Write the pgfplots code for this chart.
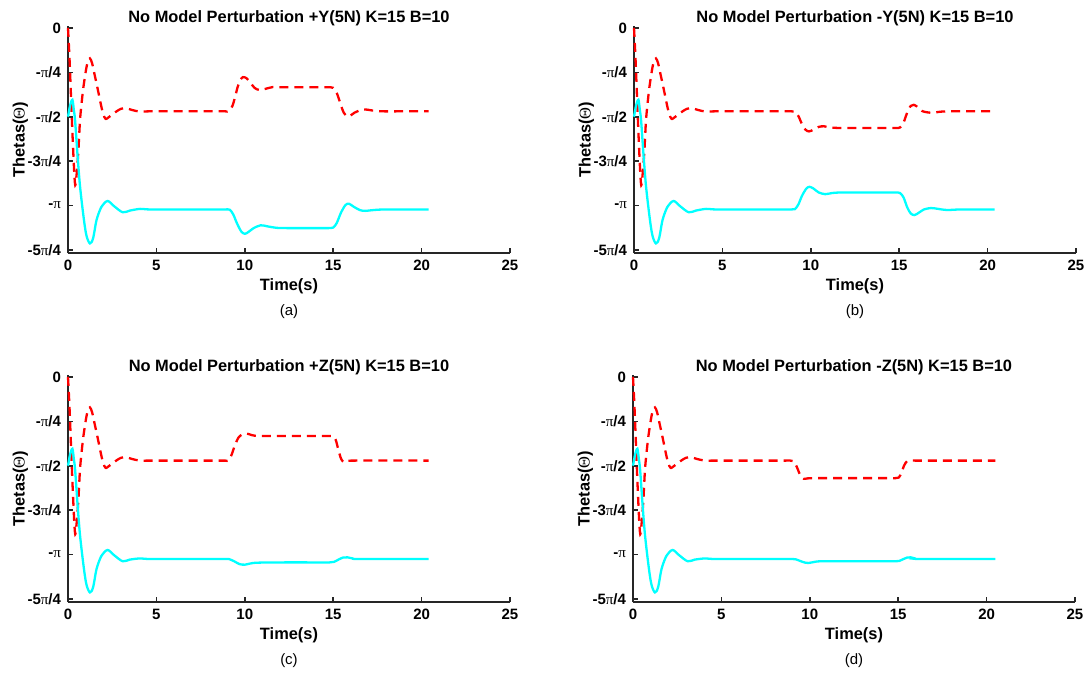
\documentclass[border=0pt]{standalone}
\usepackage{fontspec}
\setmainfont{Liberation Sans}
\newfontfamily\symfont{Liberation Serif}
\usepackage{pgfplots}
\pgfplotsset{compat=1.18}

\definecolor{axgray}{RGB}{38,38,38}
\definecolor{lred}{RGB}{255,0,0}
\definecolor{lcyan}{RGB}{0,255,255}
\newcommand{\pif}{{\symfont\mdseries π}}

\pgfplotsset{
  thetas/.style={
    scale only axis, width=221pt, height=113.4pt,
    xmin=0, xmax=25, ymin=-3.98, ymax=0.03,
    axis x line*=bottom, axis y line*=left,
    axis line style={axgray, line width=0.9pt},
    tick style={axgray, line width=0.8pt},
    major tick length=2.5pt, tick align=inside,
    xtick={0,5,...,25},
    ytick={-3.92699,-3.14159,-2.35619,-1.5708,-0.7854,0},
    yticklabels={\textbf{-5}\pif\textbf{/4},\textbf{-}\pif,\textbf{-3}\pif\textbf{/4},\textbf{-}\pif\textbf{/2},\textbf{-}\pif\textbf{/4},\textbf{0}},
    /pgf/number format/assume math mode=true,
    ticklabel style={font=\fontsize{7.5}{9}\selectfont\bfseries, text=black},
    xlabel={Time(s)},
    ylabel={Thetas({\symfont\mdseries Θ})},
    label style={font=\fontsize{8.2}{10}\selectfont\bfseries},
    xlabel style={at={(axis description cs:0.5,-0.146)}, anchor=center},
    ylabel style={at={(axis description cs:-0.108,0.5)}, anchor=center},
    title style={at={(axis description cs:0.5,1.035)}, anchor=center, yshift=-6pt,
      font=\fontsize{8.2}{10}\selectfont\bfseries},
    clip=false,
  },
  redline/.style={lred, line width=1.15pt, dash pattern=on 4.5pt off 3pt, smooth, tension=0.5},
  cyanline/.style={lcyan, line width=1.15pt, smooth, tension=0.5},
}

\begin{document}
\begin{tikzpicture}
\useasboundingbox (0,0) rectangle (544.5pt,-337pt);

% (a)
\begin{axis}[thetas, at={(34pt,-126.5pt)}, anchor=south west,
  title={No Model Perturbation +Y(5N) K=15 B=10}]
\addplot[redline] coordinates {
(0,0)(0.08,-0.5)(0.15,-1.05)(0.23,-1.7)(0.3,-2.21)(0.36,-2.6)(0.41,-2.78)(0.47,-2.65)(0.58,-2.21)(0.68,-1.63)(0.78,-1.3)(0.87,-1.05)(1.02,-0.74)(1.12,-0.6)(1.24,-0.54)(1.36,-0.62)(1.5,-0.82)(1.66,-1.05)(1.9,-1.41)(2.05,-1.57)(2.15,-1.61)(2.3,-1.58)(2.73,-1.48)(3.0,-1.43)(3.3,-1.42)(3.6,-1.45)(4.07,-1.48)(4.6,-1.475)(6,-1.475)(8.5,-1.475)(8.9,-1.475)
(9.1,-1.475)(9.3,-1.38)(9.45,-1.22)(9.6,-1.04)(9.75,-0.92)(9.9,-0.87)(10.1,-0.89)(10.3,-0.96)(10.55,-1.06)(10.85,-1.10)(11.2,-1.075)(11.6,-1.045)(12.1,-1.05)(12.8,-1.05)(14.2,-1.05)(14.7,-1.05)(15.0,-1.06)(15.2,-1.15)(15.4,-1.33)(15.6,-1.5)(15.85,-1.57)(16.2,-1.50)(16.7,-1.44)(17.2,-1.46)(17.8,-1.475)(19,-1.475)(20.4,-1.475)
};
\addplot[cyanline] coordinates {
(0,-1.57)(0.12,-1.37)(0.25,-1.27)(0.33,-1.45)(0.4,-1.63)(0.53,-2.21)(0.68,-2.8)(0.9,-3.39)(1.05,-3.68)(1.24,-3.81)(1.42,-3.72)(1.62,-3.39)(1.9,-3.16)(2.24,-3.06)(2.6,-3.15)(3.09,-3.26)(3.5,-3.23)(4.07,-3.20)(4.6,-3.21)(6,-3.21)(8.5,-3.21)(8.9,-3.21)
(9.15,-3.215)(9.35,-3.30)(9.55,-3.45)(9.8,-3.60)(10.0,-3.64)(10.2,-3.61)(10.5,-3.54)(10.9,-3.49)(11.3,-3.51)(11.8,-3.535)(12.5,-3.54)(14.2,-3.54)(14.7,-3.54)(15.0,-3.53)(15.2,-3.45)(15.45,-3.26)(15.7,-3.13)(15.9,-3.11)(16.15,-3.16)(16.5,-3.22)(16.8,-3.235)(17.3,-3.22)(18,-3.21)(20.4,-3.21)
};
\node[font=\fontsize{7.5}{9}\selectfont] at (axis description cs:0.5,-0.26) {(a)};
\end{axis}

% (b)
\begin{axis}[thetas, at={(317pt,-126.5pt)}, anchor=south west,
  title={No Model Perturbation -Y(5N) K=15 B=10}]
\addplot[redline] coordinates {
(0,0)(0.08,-0.5)(0.15,-1.05)(0.23,-1.7)(0.3,-2.21)(0.36,-2.6)(0.41,-2.78)(0.47,-2.65)(0.58,-2.21)(0.68,-1.63)(0.78,-1.3)(0.87,-1.05)(1.02,-0.74)(1.12,-0.6)(1.24,-0.54)(1.36,-0.62)(1.5,-0.82)(1.66,-1.05)(1.9,-1.41)(2.05,-1.57)(2.15,-1.61)(2.3,-1.58)(2.73,-1.48)(3.0,-1.43)(3.3,-1.42)(3.6,-1.45)(4.07,-1.48)(4.6,-1.475)(6,-1.475)(8.5,-1.475)(8.9,-1.475)
(9.1,-1.48)(9.3,-1.56)(9.5,-1.70)(9.7,-1.80)(9.9,-1.83)(10.15,-1.80)(10.45,-1.75)(10.75,-1.74)(11.1,-1.76)(11.6,-1.77)(12.3,-1.77)(14.3,-1.77)(14.8,-1.77)(15.05,-1.76)(15.25,-1.67)(15.45,-1.5)(15.65,-1.38)(15.82,-1.36)(16.0,-1.39)(16.3,-1.47)(16.8,-1.50)(17.4,-1.48)(18,-1.475)(20.4,-1.475)
};
\addplot[cyanline] coordinates {
(0,-1.57)(0.12,-1.37)(0.25,-1.27)(0.33,-1.45)(0.4,-1.63)(0.53,-2.21)(0.68,-2.8)(0.9,-3.39)(1.05,-3.68)(1.24,-3.81)(1.42,-3.72)(1.62,-3.39)(1.9,-3.16)(2.24,-3.06)(2.6,-3.15)(3.09,-3.26)(3.5,-3.23)(4.07,-3.20)(4.6,-3.21)(6,-3.21)(8.5,-3.21)(8.9,-3.21)
(9.1,-3.205)(9.3,-3.12)(9.5,-2.97)(9.75,-2.84)(9.93,-2.81)(10.15,-2.84)(10.45,-2.91)(10.82,-2.94)(11.2,-2.92)(11.8,-2.91)(14.3,-2.91)(14.8,-2.91)(15.05,-2.92)(15.25,-3.0)(15.45,-3.17)(15.65,-3.28)(15.86,-3.31)(16.1,-3.27)(16.4,-3.21)(16.8,-3.185)(17.2,-3.2)(17.7,-3.22)(18.5,-3.21)(20.4,-3.21)
};
\node[font=\fontsize{7.5}{9}\selectfont] at (axis description cs:0.5,-0.26) {(b)};
\end{axis}

% (c)
\begin{axis}[thetas, at={(34pt,-301pt)}, anchor=south west,
  title={No Model Perturbation +Z(5N) K=15 B=10}]
\addplot[redline] coordinates {
(0,0)(0.08,-0.5)(0.15,-1.05)(0.23,-1.7)(0.3,-2.21)(0.36,-2.6)(0.41,-2.78)(0.47,-2.65)(0.58,-2.21)(0.68,-1.63)(0.78,-1.3)(0.87,-1.05)(1.02,-0.74)(1.12,-0.6)(1.24,-0.54)(1.36,-0.62)(1.5,-0.82)(1.66,-1.05)(1.9,-1.41)(2.05,-1.57)(2.15,-1.61)(2.3,-1.58)(2.73,-1.48)(3.0,-1.43)(3.3,-1.42)(3.6,-1.45)(4.07,-1.48)(4.6,-1.48)(6,-1.48)(8.5,-1.48)(8.9,-1.48)
(9.07,-1.48)(9.25,-1.38)(9.45,-1.2)(9.65,-1.07)(9.85,-1.02)(10.1,-1.0)(10.4,-1.03)(10.8,-1.045)(12,-1.045)(14.4,-1.045)(14.8,-1.045)(15.0,-1.05)(15.15,-1.12)(15.3,-1.3)(15.45,-1.45)(15.6,-1.505)(15.8,-1.49)(16.2,-1.48)(20.4,-1.48)
};
\addplot[cyanline] coordinates {
(0,-1.57)(0.12,-1.37)(0.25,-1.27)(0.33,-1.45)(0.4,-1.63)(0.53,-2.21)(0.68,-2.8)(0.9,-3.39)(1.05,-3.68)(1.24,-3.81)(1.42,-3.72)(1.62,-3.39)(1.9,-3.16)(2.24,-3.06)(2.6,-3.15)(3.09,-3.26)(3.5,-3.23)(4.07,-3.21)(4.6,-3.22)(6,-3.22)(8.5,-3.22)(8.9,-3.22)
(9.1,-3.22)(9.4,-3.26)(9.7,-3.31)(10.0,-3.32)(10.3,-3.30)(10.7,-3.285)(12,-3.28)(14.4,-3.28)(14.8,-3.28)(15.05,-3.27)(15.3,-3.23)(15.55,-3.195)(15.8,-3.19)(16.1,-3.21)(16.5,-3.22)(20.4,-3.22)
};
\node[font=\fontsize{7.5}{9}\selectfont] at (axis description cs:0.5,-0.26) {(c)};
\end{axis}

% (d)
\begin{axis}[thetas, at={(316.5pt,-301pt)}, anchor=south west,
  title={No Model Perturbation -Z(5N) K=15 B=10}]
\addplot[redline] coordinates {
(0,0)(0.08,-0.5)(0.15,-1.05)(0.23,-1.7)(0.3,-2.21)(0.36,-2.6)(0.41,-2.78)(0.47,-2.65)(0.58,-2.21)(0.68,-1.63)(0.78,-1.3)(0.87,-1.05)(1.02,-0.74)(1.12,-0.6)(1.24,-0.54)(1.36,-0.62)(1.5,-0.82)(1.66,-1.05)(1.9,-1.41)(2.05,-1.57)(2.15,-1.61)(2.3,-1.58)(2.73,-1.48)(3.0,-1.43)(3.3,-1.42)(3.6,-1.45)(4.07,-1.48)(4.6,-1.48)(6,-1.48)(8.5,-1.48)(8.9,-1.48)
(9.08,-1.49)(9.25,-1.58)(9.45,-1.73)(9.65,-1.80)(9.85,-1.795)(10.3,-1.79)(12,-1.79)(14.4,-1.79)(14.85,-1.79)(15.03,-1.78)(15.18,-1.70)(15.33,-1.57)(15.5,-1.49)(15.7,-1.48)(16.2,-1.48)(20.5,-1.48)
};
\addplot[cyanline] coordinates {
(0,-1.57)(0.12,-1.37)(0.25,-1.27)(0.33,-1.45)(0.4,-1.63)(0.53,-2.21)(0.68,-2.8)(0.9,-3.39)(1.05,-3.68)(1.24,-3.81)(1.42,-3.72)(1.62,-3.39)(1.9,-3.16)(2.24,-3.06)(2.6,-3.15)(3.09,-3.26)(3.5,-3.23)(4.07,-3.21)(4.6,-3.22)(6,-3.22)(8.5,-3.22)(8.9,-3.22)
(9.2,-3.225)(9.5,-3.26)(9.75,-3.285)(9.93,-3.29)(10.2,-3.275)(10.6,-3.26)(12,-3.26)(14.4,-3.26)(14.8,-3.26)(15.05,-3.255)(15.3,-3.22)(15.5,-3.195)(15.7,-3.19)(15.95,-3.21)(16.3,-3.22)(20.5,-3.22)
};
\node[font=\fontsize{7.5}{9}\selectfont] at (axis description cs:0.5,-0.26) {(d)};
\end{axis}
\end{tikzpicture}
\end{document}
